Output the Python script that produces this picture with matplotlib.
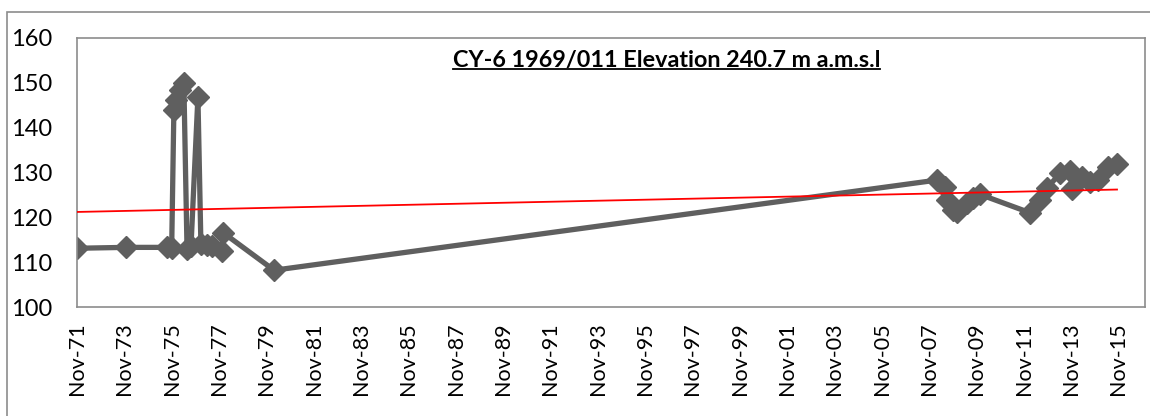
# Water level plot for borehole CY-6
import datetime
import matplotlib
matplotlib.use('Agg')
import matplotlib.pyplot as plt
from matplotlib.patches import Rectangle
from matplotlib.lines import Line2D

plt.rcParams['font.family'] = ['Lato', 'DejaVu Sans']

# readings (date, water level m)
dates = ['1971-11-01', '1973-11-20', '1975-08-15', '1975-11-01', '1975-12-05',
         '1976-01-05', '1976-03-05', '1976-05-07', '1976-06-25', '1976-08-25',
         '1976-12-10', '1977-01-25', '1977-04-25', '1977-07-15', '1977-12-15',
         '1978-01-01', '1980-02-28', '2008-02-28', '2008-07-05', '2008-08-01',
         '2008-11-05', '2009-01-01', '2009-06-05', '2009-09-10', '2009-12-28',
         '2012-02-10', '2012-07-10', '2012-10-25', '2013-05-18', '2013-10-20',
         '2013-11-18', '2014-04-15', '2014-08-22', '2014-12-28', '2015-05-30',
         '2015-10-10']
levels = [113.1, 113.3, 113.3, 113.1, 143.9,
          146.2, 148.4, 149.9, 112.9, 113.5,
          146.9, 114.0, 113.9, 113.5, 112.4,
          116.6, 108.2, 128.3, 126.8, 123.9,
          121.6, 121.3, 123.2, 124.3, 125.1,
          121.0, 123.9, 126.6, 129.8, 130.4,
          126.4, 129.1, 127.9, 128.3, 131.3,
          132.0]

# linear trend (end points)
trend_values = [121.2, 126.2]

tick_years = list(range(1971, 2016, 2))
title = 'CY-6 1969/011 Elevation 240.7 m a.m.s.l'

x = [datetime.datetime.strptime(d, '%Y-%m-%d') for d in dates]
ticks = [datetime.datetime(y, 11, 1) for y in tick_years]

fig = plt.figure(figsize=(11.5, 4.16), dpi=100)
ax = fig.add_axes([77/1150, 1 - 307/416, 1068/1150, 269/416])

# outer chart frame
fig.patches.append(Rectangle((7/1150, -0.1), 1.2, 1 - 12/416 + 0.1,
                             transform=fig.transFigure, fill=False,
                             edgecolor='#8c8c8c', linewidth=1.2))

ax.plot(x, levels, color='#5f5f5f', linewidth=3.8, marker='D',
        markersize=11.5, zorder=2)
ax.plot([x[0], x[-1]], trend_values, color='red', linewidth=1.3, zorder=3)

ax.set_ylim(100, 160)
ax.set_yticks(range(100, 161, 10))
ax.set_xlim(datetime.datetime(1971, 11, 1), datetime.datetime(2016, 12, 15))
ax.set_xticks(ticks)
ax.set_xticklabels([d.strftime('%b-%y') for d in ticks])
ax.tick_params(axis='both', length=0)
ax.tick_params(axis='x', labelrotation=90, pad=11, labelsize=15.5)
ax.tick_params(axis='y', pad=18, labelsize=17)
for s in ax.spines.values():
    s.set_color('#8c8c8c')
    s.set_linewidth(1.2)

t = ax.text(0.552, 0.918, title, transform=ax.transAxes, ha='center',
            va='center', fontsize=16.8, fontweight='bold')
fig.canvas.draw()
bb = t.get_window_extent().transformed(fig.transFigure.inverted())
fig.lines.append(Line2D([bb.x0, bb.x1], [bb.y0 + 0.004, bb.y0 + 0.004],
                       transform=fig.transFigure, color='black', linewidth=1.3))

plt.savefig('out.png', dpi=100)
